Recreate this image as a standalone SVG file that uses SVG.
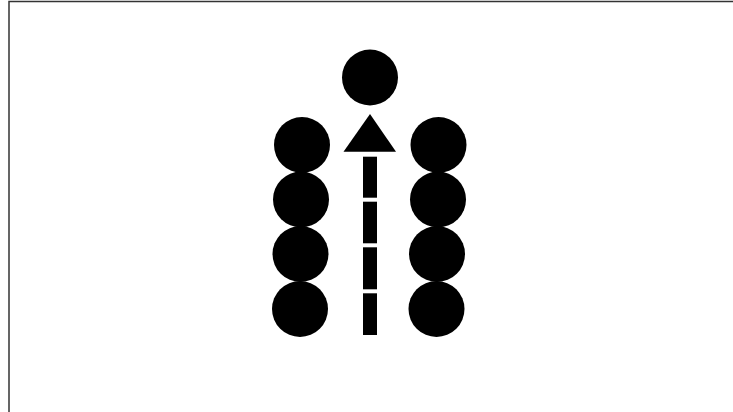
<svg xmlns="http://www.w3.org/2000/svg" width="733" height="412" viewBox="0 0 733 412">
<style>
.dot{fill:#000}
.frame{stroke:#333;stroke-width:1.5;fill:none}
</style>
<rect width="733" height="412" fill="#fff"/>
<path class="frame" d="M9,412 V1.5 H733"/>
<g id="top"><circle class="dot" cx="370" cy="77.5" r="28"/></g>
<g id="left">
<circle class="dot" cx="302" cy="145" r="28"/>
<circle class="dot" cx="301" cy="199.5" r="28"/>
<circle class="dot" cx="300.5" cy="254" r="28"/>
<circle class="dot" cx="300" cy="309" r="28"/>
</g>
<g id="right">
<circle class="dot" cx="438.5" cy="145" r="28"/>
<circle class="dot" cx="438" cy="199.5" r="28"/>
<circle class="dot" cx="437" cy="254" r="28"/>
<circle class="dot" cx="436.5" cy="309" r="28"/>
</g>
<g id="connectors">
<polygon class="dot" points="370,114 396,151.7 343.5,151.7"/>
<rect class="dot" x="363" y="156.7" width="14" height="41"/>
<rect class="dot" x="363" y="201.7" width="14" height="41.6"/>
<rect class="dot" x="363" y="247.3" width="14" height="42"/>
<rect class="dot" x="363" y="293.3" width="14" height="41.7"/>
</g>
</svg>
